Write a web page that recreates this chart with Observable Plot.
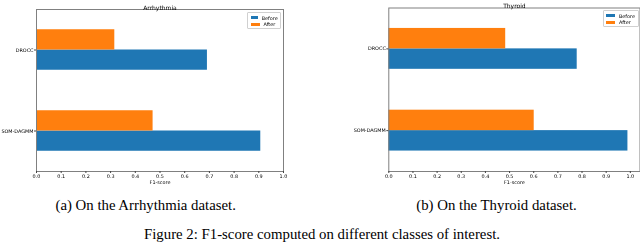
<!DOCTYPE html>
<html>
<head>
<meta charset="utf-8">
<script src="https://cdn.jsdelivr.net/npm/d3@7"></script>
<script src="https://cdn.jsdelivr.net/npm/@observablehq/plot@0.6"></script>
<style>
  html, body { margin: 0; padding: 0; background: #fff; }
  #wrap { position: relative; width: 640px; height: 243px; overflow: hidden; }
  #plots { position: absolute; left: 0; top: 0; display: flex; will-change: transform; background: #fff; }
  #plots svg text { text-rendering: geometricPrecision; }
  .legend { position: absolute; box-sizing: border-box; background: rgba(255,255,255,0.85);
    border: 0.6px solid #d0d0d0; border-radius: 1px; font-family: "DejaVu Sans"; font-size: 4.9px;
    padding: 1.6px 1.8px 0 2.5px; color: #000; }
  .legend .row { display: flex; align-items: center; height: 6.6px; }
  .legend .sw { width: 9px; height: 3px; margin-right: 4px; }
  .cap { position: absolute; font-family: "Liberation Serif", "Times New Roman", serif; font-size: 14.8px;
    line-height: 16px; white-space: nowrap; transform: translateX(-50%); color: #000; }
</style>
</head>
<body>
<div id="wrap">
  <div id="plots"></div>
</div>
<script>
const categories = ["SOM-DAGMM", "DROCC"];
const series = ["Before", "After"];
const colors = ["#1f77b4", "#ff7f0e"];
const arrhythmiaBefore = [0.908, 0.692];
const arrhythmiaAfter = [0.472, 0.317];
const thyroidBefore = [0.99, 0.78];
const thyroidAfter = [0.602, 0.484];
const xTicks = [0.0, 0.1, 0.2, 0.3, 0.4, 0.5, 0.6, 0.7, 0.8, 0.9, 1.0];
const titles = ["Arrhythmia", "Thyroid"];
const xLabel = "F1-score";
const subCaptions = ["(a) On the Arrhythmia dataset.", "(b) On the Thyroid dataset."];
const figCaption = "Figure 2: F1-score computed on different classes of interest.";

function rowsFor(before, after) {
  const out = [];
  categories.forEach((c, i) => {
    out.push({category: c, series: series[0], value: before[i], y1: i - 0.25, y2: i});
    out.push({category: c, series: series[1], value: after[i], y1: i, y2: i + 0.25});
  });
  return out;
}

function panel(title, before, after, xmax, ml, mr, mt) {
  return Plot.plot({
    width: 320, height: 190,
    marginLeft: ml, marginRight: mr, marginTop: mt, marginBottom: 19,
    style: {fontFamily: "DejaVu Sans", fontSize: "4.9px", background: "#fff", color: "#000"},
    x: {domain: [0, xmax]},
    y: {domain: [-0.5, 1.5]},
    color: {domain: series, range: colors},
    marks: [
      Plot.rect(rowsFor(before, after), {x1: 0, x2: "value", y1: "y1", y2: "y2", fill: "series"}),
      Plot.frame({stroke: "#808080", strokeWidth: 1}),
      Plot.axisX({ticks: xTicks, tickFormat: d3.format(".1f"), tickSize: 2, tickPadding: 0.8,
        fontSize: 4.9, label: null, fill: "#000", stroke: "#444"}),
      Plot.axisY({ticks: [0, 1], tickFormat: i => categories[i], tickSize: 2, tickPadding: 1,
        fontSize: 4.9, label: null, fill: "#000", stroke: "#444"}),
      Plot.text([title], {frameAnchor: "top", dy: -4, fontSize: 6, fill: "#000"}),
      Plot.text([xLabel], {frameAnchor: "bottom", dy: 12.3, fontSize: 4.9, fill: "#000"})
    ]
  });
}

const plots = document.getElementById("plots");
plots.append(panel(titles[0], arrhythmiaBefore, arrhythmiaAfter, 1.0, 36, 37, 9));
plots.append(panel(titles[1], thyroidBefore, thyroidAfter, 1.04, 68.3, 0.5, 7.5));

const wrap = document.getElementById("wrap");
function legend(left, top, width) {
  const d = document.createElement("div");
  d.className = "legend";
  d.style.left = left + "px"; d.style.top = top + "px";
  d.style.width = width + "px"; d.style.height = "17px";
  series.forEach((s, i) => {
    const r = document.createElement("div"); r.className = "row";
    const sw = document.createElement("div"); sw.className = "sw"; sw.style.background = colors[i];
    const t = document.createElement("span"); t.textContent = s;
    r.append(sw, t); d.append(r);
  });
  wrap.append(d);
}
legend(247, 12, 33.5);
legend(602.5, 10, 36.5);

function cap(text, cx, cy) {
  const d = document.createElement("div");
  d.className = "cap"; d.textContent = text;
  d.style.left = cx + "px"; d.style.top = (cy - 8) + "px";
  wrap.append(d);
}
cap(subCaptions[0], 145.7, 205);
cap(subCaptions[1], 496.5, 205);
cap(figCaption, 322, 234);
</script>
</body>
</html>
